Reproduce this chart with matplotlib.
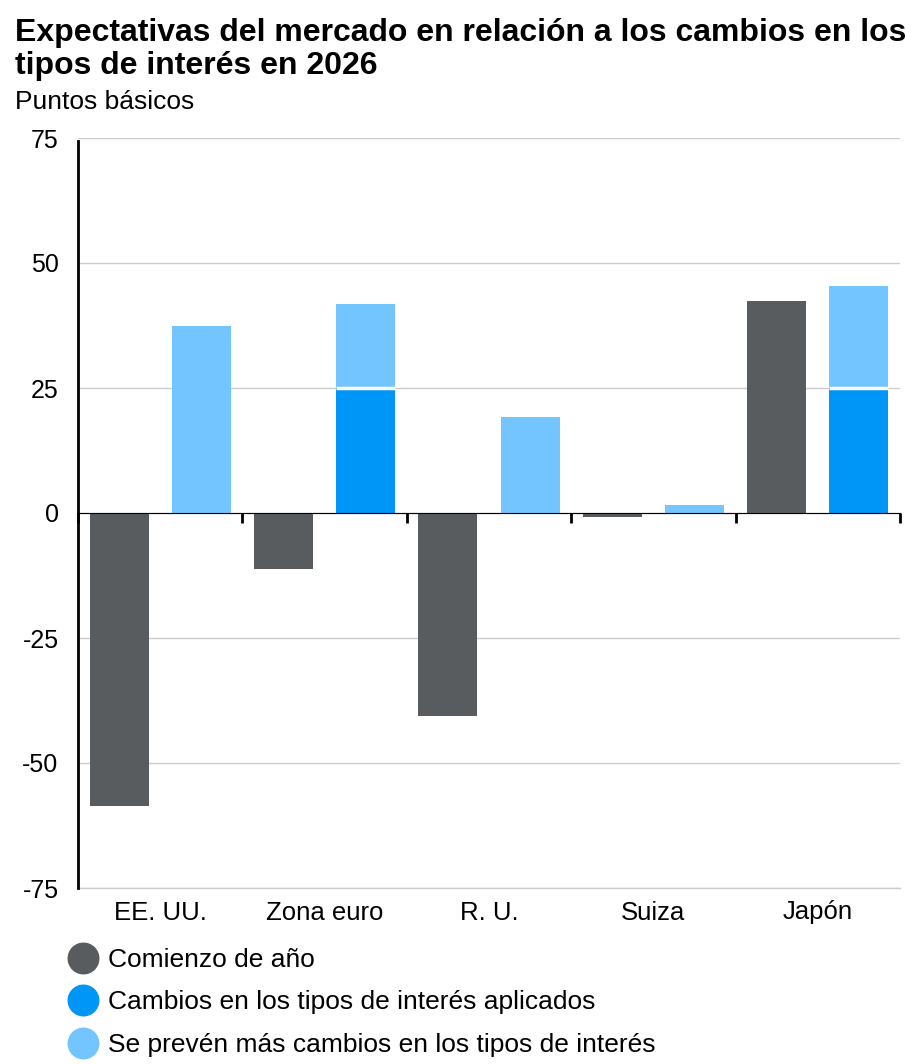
import matplotlib
matplotlib.use("Agg")
import matplotlib.pyplot as plt
from matplotlib.lines import Line2D
import numpy as np

plt.rcParams['font.family'] = ['Liberation Sans', 'DejaVu Sans']

categories = ["EE. UU.", "Zona euro", "R. U.", "Suiza", "Japón"]
start_of_year = [-58.6, -11.2, -40.6, -0.8, 42.4]
applied = [0, 25, 0, 0, 25]
expected_more = [37.4, 16.8, 19.2, 1.6, 20.4]
yticks = [75, 50, 25, 0, -25, -50, -75]
legend_labels = ["Comienzo de año", "Cambios en los tipos de interés aplicados",
                 "Se prevén más cambios en los tipos de interés"]

c_gray = "#585c5e"
c_blue = "#0096f8"
c_light = "#73c5ff"

W, H = 924, 1064
fig = plt.figure(figsize=(W/100, H/100), dpi=100)
ax = fig.add_axes([78/W, 1-888/H, 822/W, 750/H])

x = np.arange(len(categories))
bw = 0.36
off = 0.25
ax.bar(x - off, start_of_year, bw, color=c_gray, zorder=3)
ax.bar(x + off, applied, bw, color=c_blue, zorder=3)
ax.bar(x + off, expected_more, bw, bottom=applied, color=c_light, zorder=3)
# white separator between stacked segments
for xi, a, e in zip(x, applied, expected_more):
    if a and e:
        ax.plot([xi + off - bw/2, xi + off + bw/2], [a, a], color="white", lw=2.5, zorder=4,
                solid_capstyle="butt")

ax.set_xlim(-0.5, len(categories) - 0.5)
ax.set_ylim(-75, 75)
ax.set_yticks(yticks)
ax.set_yticklabels([str(v) for v in yticks], fontsize=18)
ax.set_xticks(x)
ax.set_xticklabels(categories, fontsize=18.5)
ax.tick_params(axis='x', length=0, pad=9)
ax.tick_params(axis='y', length=0, pad=14)
ax.grid(axis='y', color="#cccccc", lw=1, zorder=0)
ax.axhline(-75, color="#cccccc", lw=1, zorder=0, clip_on=False)
for s in ['top', 'right', 'bottom']:
    ax.spines[s].set_visible(False)
ax.spines['left'].set_linewidth(2)
ax.spines['left'].set_color("black")
ax.spines['left'].set_bounds(-75, 74.5)

sec = ax.secondary_xaxis(0.5)
sec.set_xticks(np.arange(len(categories) + 1) - 0.5)
sec.set_xticklabels([])
sec.tick_params(axis='x', direction='in', length=7, width=2, color="black")
sec.spines['bottom'].set_linewidth(2.2)
sec.spines['bottom'].set_color("black")
sec.set_zorder(5)

fig.text(15/W, 1-41/H, "Expectativas del mercado en relación a los cambios en los",
         fontsize=23, fontweight='bold', va='baseline', ha='left')
fig.text(15/W, 1-74/H, "tipos de interés en 2026",
         fontsize=23, fontweight='bold', va='baseline', ha='left')
fig.text(15/W, 1-109/H, "Puntos básicos", fontsize=19, va='baseline', ha='left')

handles = [Line2D([], [], ls='none', marker='o', markersize=22, color=c)
           for c in (c_gray, c_blue, c_light)]
fig.legend(handles, legend_labels, loc='upper left', bbox_to_anchor=(70/W, 1-948/H),
           frameon=False, fontsize=19, handlelength=1.0, handletextpad=0.45,
           labelspacing=0.7, borderpad=0, borderaxespad=0)

fig.savefig("out.png", dpi=100)
